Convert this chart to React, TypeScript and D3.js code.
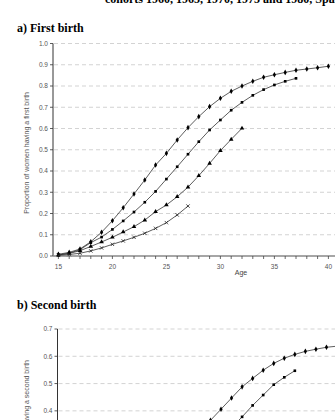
import * as d3 from 'd3';
import { useEffect, useRef } from 'react';

// a) first birth, proportion by age, per cohort
const agesFirst1960 = [15, 16, 17, 18, 19, 20, 21, 22, 23, 24, 25, 26, 27, 28, 29, 30, 31, 32, 33, 34, 35, 36, 37, 38, 39, 40];
const firstBirth1960 = [0.008, 0.017, 0.033, 0.067, 0.112, 0.166, 0.227, 0.292, 0.358, 0.428, 0.483, 0.546, 0.604, 0.656, 0.703, 0.742, 0.775, 0.8, 0.822, 0.841, 0.853, 0.864, 0.874, 0.88, 0.886, 0.893];
const agesFirst1965 = [15, 16, 17, 18, 19, 20, 21, 22, 23, 24, 25, 26, 27, 28, 29, 30, 31, 32, 33, 34, 35, 36, 37];
const firstBirth1965 = [0.005, 0.013, 0.03, 0.063, 0.089, 0.125, 0.165, 0.207, 0.253, 0.304, 0.362, 0.42, 0.479, 0.538, 0.593, 0.64, 0.686, 0.723, 0.756, 0.783, 0.805, 0.822, 0.836];
const agesFirst1970 = [15, 16, 17, 18, 19, 20, 21, 22, 23, 24, 25, 26, 27, 28, 29, 30, 31, 32];
const firstBirth1970 = [0.005, 0.012, 0.025, 0.045, 0.066, 0.088, 0.113, 0.138, 0.169, 0.209, 0.24, 0.279, 0.324, 0.378, 0.436, 0.496, 0.549, 0.601];
const agesFirst1975 = [15, 16, 17, 18, 19, 20, 21, 22, 23, 24, 25, 26, 27];
const firstBirth1975 = [0.003, 0.007, 0.013, 0.024, 0.038, 0.055, 0.071, 0.088, 0.107, 0.13, 0.157, 0.193, 0.235];

// b) second birth (only the top of the panel is in the picture)
const agesSecond1960 = [28, 29, 30, 31, 32, 33, 34, 35, 36, 37, 38, 39, 40, 41];
const secondBirth1960 = [0.325, 0.365, 0.406, 0.447, 0.488, 0.519, 0.549, 0.574, 0.593, 0.607, 0.618, 0.626, 0.633, 0.637];
const agesSecond1965 = [31, 32, 33, 34, 35, 36, 37];
const secondBirth1965 = [0.338, 0.378, 0.42, 0.458, 0.496, 0.523, 0.547];

const ageTickLabels = [15, 20, 25, 30, 35, 40];
const firstTicks = [0, 0.1, 0.2, 0.3, 0.4, 0.5, 0.6, 0.7, 0.8, 0.9, 1.0];
const secondTicks = [0.4, 0.5, 0.6, 0.7];

const zip = (ages, values) => ages.map((age, i) => ({ age, value: values[i] }));

function drawPanel(svg, opts) {
  const { x, y, ticks, series, label, axisBottom } = opts;
  const [x0, x1] = x.range();
  const g = svg.append('g');

  // dashed grid
  g.selectAll('.grid')
    .data(ticks.filter((t) => t > 0))
    .enter()
    .append('line')
    .attr('x1', x0 + 1)
    .attr('x2', 335)
    .attr('y1', (t) => y(t))
    .attr('y2', (t) => y(t))
    .attr('stroke', '#c8c8c8')
    .attr('stroke-width', 0.8)
    .attr('stroke-dasharray', '4,3');

  // y axis
  const [yBottom, yTop] = y.range();
  g.append('line')
    .attr('x1', x0).attr('x2', x0)
    .attr('y1', yTop).attr('y2', Math.min(yBottom, 420))
    .attr('stroke', '#333').attr('stroke-width', 1);
  g.selectAll('.ytick')
    .data(ticks)
    .enter()
    .append('line')
    .attr('x1', x0 - 3).attr('x2', x0)
    .attr('y1', (t) => y(t)).attr('y2', (t) => y(t))
    .attr('stroke', '#333').attr('stroke-width', 0.8);
  g.selectAll('.ylabel')
    .data(ticks)
    .enter()
    .append('text')
    .attr('x', x0 - 5)
    .attr('y', (t) => y(t))
    .attr('dy', '0.35em')
    .attr('text-anchor', 'end')
    .style('font-family', 'Liberation Sans, Arial, sans-serif')
    .style('font-size', '6.5px')
    .attr('fill', '#555')
    .text(d3.format('.1f'));

  // x axis
  if (axisBottom) {
    g.append('line')
      .attr('x1', x0).attr('x2', x1)
      .attr('y1', yBottom).attr('y2', yBottom)
      .attr('stroke', '#888').attr('stroke-width', 1.6);
    g.selectAll('.xtick')
      .data(d3.range(15, 42))
      .enter()
      .append('line')
      .attr('x1', (a) => x(a)).attr('x2', (a) => x(a))
      .attr('y1', yBottom).attr('y2', yBottom + 3)
      .attr('stroke', '#444').attr('stroke-width', 0.8);
    g.selectAll('.xlabel')
      .data(ageTickLabels)
      .enter()
      .append('text')
      .attr('x', (a) => x(a))
      .attr('y', yBottom + 13)
      .attr('text-anchor', 'middle')
      .style('font-family', 'Liberation Sans, Arial, sans-serif')
      .style('font-size', '6.5px')
      .attr('fill', '#555')
      .text((a) => a);
    g.append('text')
      .attr('x', 241)
      .attr('y', yBottom + 19)
      .attr('text-anchor', 'middle')
      .style('font-family', 'Liberation Sans, Arial, sans-serif')
      .style('font-size', '7px')
      .attr('fill', '#444')
      .text('Age');
  }

  g.append('text')
    .attr('transform', `translate(29,${label.end}) rotate(-90)`)
    .attr('text-anchor', 'end')
    .style('font-family', 'Liberation Sans, Arial, sans-serif')
    .style('font-size', '7px')
    .attr('fill', '#555')
    .text(label.text);

  const line = d3.line().x((d) => x(d.age)).y((d) => y(d.value));
  series.forEach((s) => {
    g.append('path')
      .datum(s.points)
      .attr('d', line)
      .attr('fill', 'none')
      .attr('stroke', '#333')
      .attr('stroke-width', 0.8);
    const stroked = s.symbol === d3.symbolTimes;
    g.selectAll(null)
      .data(s.points)
      .enter()
      .append('path')
      .attr('transform', (d) => `translate(${x(d.age)},${y(d.value)})`)
      .attr('d', d3.symbol().type(s.symbol).size(s.size))
      .attr('fill', stroked ? 'none' : '#000')
      .attr('stroke', stroked ? '#222' : 'none')
      .attr('stroke-width', 0.8);
  });
}

export default function App() {
  const ref = useRef(null);

  useEffect(() => {
    const svg = d3.select(ref.current);
    svg.selectAll('*').remove();

    svg.append('text')
      .attr('x', 105).attr('y', 3)
      .style('font-family', 'Liberation Serif, Times New Roman, serif')
      .style('font-size', '12px').style('font-weight', 'bold')
      .text('cohorts 1960, 1965, 1970, 1975 and 1980, Spain');

    svg.append('text')
      .attr('x', 17).attr('y', 32)
      .style('font-family', 'Liberation Serif, Times New Roman, serif')
      .style('font-size', '12px').style('font-weight', 'bold')
      .text('a) First birth');

    svg.append('text')
      .attr('x', 17).attr('y', 309)
      .style('font-family', 'Liberation Serif, Times New Roman, serif')
      .style('font-size', '12px').style('font-weight', 'bold')
      .text('b) Second birth');

    const xFirst = d3.scaleLinear().domain([14.5, 41.5]).range([53, 344.6]);
    const yFirst = d3.scaleLinear().domain([0, 1]).range([256, 43.5]);
    drawPanel(svg, {
      x: xFirst,
      y: yFirst,
      ticks: firstTicks,
      axisBottom: true,
      label: { text: 'Proportion of women having a first birth', end: 92 },
      series: [
        { points: zip(agesFirst1960, firstBirth1960), symbol: d3.symbolDiamond, size: 9 },
        { points: zip(agesFirst1965, firstBirth1965), symbol: d3.symbolSquare, size: 7 },
        { points: zip(agesFirst1970, firstBirth1970), symbol: d3.symbolTriangle, size: 9 },
        { points: zip(agesFirst1975, firstBirth1975), symbol: d3.symbolTimes, size: 9 },
      ],
    });

    const xSecond = d3.scaleLinear().domain([14.5, 41.5]).range([57.5, 342.3]);
    const ySecond = d3.scaleLinear().domain([0, 0.7]).range([520, 329]);
    drawPanel(svg, {
      x: xSecond,
      y: ySecond,
      ticks: secondTicks,
      axisBottom: false,
      label: { text: 'Proportion of women having a second birth', end: 360 },
      series: [
        { points: zip(agesSecond1960, secondBirth1960), symbol: d3.symbolDiamond, size: 9 },
        { points: zip(agesSecond1965, secondBirth1965), symbol: d3.symbolSquare, size: 7 },
      ],
    });
  }, []);

  return (
    <svg
      ref={ref}
      width={335}
      height={420}
      style={{ position: 'absolute', left: 0, top: 0, background: '#fff' }}
    />
  );
}
